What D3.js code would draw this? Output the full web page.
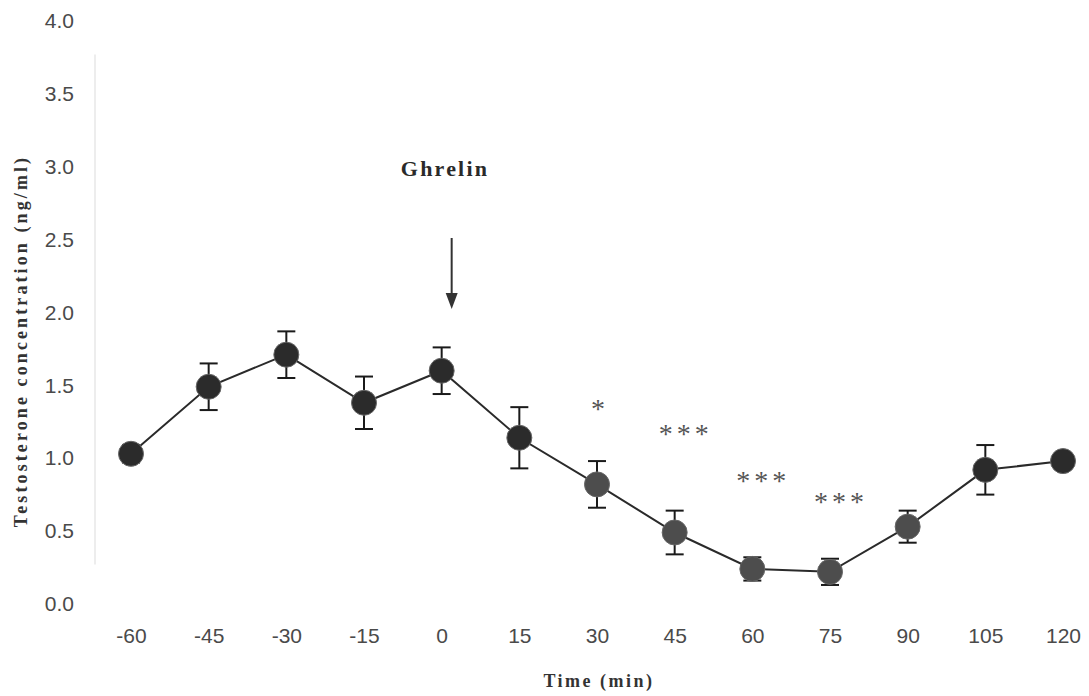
<!DOCTYPE html>
<html>
<head>
<meta charset="utf-8">
<script src="https://cdn.jsdelivr.net/npm/d3@7"></script>
<style>
  html, body { margin: 0; padding: 0; background: #fff; }
  svg { display: block; }
</style>
</head>
<body>
<svg id="chart" width="1089" height="696"></svg>
<script>
// Sampling times (min) relative to the ghrelin injection
const times = [-60, -45, -30, -15, 0, 15, 30, 45, 60, 75, 90, 105, 120];
// Mean testosterone concentration (ng/ml)
const meanValues = [1.01, 1.47, 1.69, 1.36, 1.58, 1.12, 0.80, 0.47, 0.22, 0.20, 0.51, 0.90, 0.96];
// Standard error of each mean
const errValues = [0.06, 0.16, 0.16, 0.18, 0.16, 0.21, 0.16, 0.15, 0.08, 0.09, 0.11, 0.17, 0.03];
// Significance markers: time point, text and level (ng/ml) they sit at
const sigTimes = [30, 45, 60, 75];
const sigLabels = ["*", "***", "***", "***"];
const sigLevels = [1.345, 1.17, 0.85, 0.705];
// Axis ticks
const yTicks = [0, 0.5, 1.0, 1.5, 2.0, 2.5, 3.0, 3.5, 4.0];
const xTicks = times;

const svg = d3.select("#chart");

const x = d3.scaleLinear().domain([-60, 120]).range([131, 1063]);
const y = d3.scaleLinear().domain([0, 4]).range([601, 18]);

const labelFont = "Liberation Sans, Arial, sans-serif";
const serifFont = "Liberation Serif, Times New Roman, serif";

// faint vertical axis line
svg.append("line")
  .attr("x1", 95).attr("x2", 95)
  .attr("y1", y(3.75)).attr("y2", y(0.25))
  .attr("stroke", "#ededed").attr("stroke-width", 2);

// y axis (labels only)
const yAxis = d3.axisLeft(y).tickValues(yTicks).tickFormat(d3.format(".1f")).tickSize(0).tickPadding(0);
const gy = svg.append("g").attr("transform", "translate(74,3)").call(yAxis);
gy.select(".domain").remove();
gy.selectAll("text")
  .attr("font-family", labelFont)
  .attr("font-size", 21)
  .attr("fill", "#4a4a4a");

// x axis (labels only)
const xAxis = d3.axisBottom(x).tickValues(xTicks).tickFormat(d => String(d)).tickSize(0).tickPadding(0);
const gx = svg.append("g").attr("transform", "translate(0,628)").call(xAxis);
gx.select(".domain").remove();
gx.selectAll("text")
  .attr("font-family", labelFont)
  .attr("font-size", 21)
  .attr("fill", "#4a4a4a");

// axis titles
svg.append("text")
  .attr("transform", "translate(27,341) rotate(-90)")
  .attr("text-anchor", "middle")
  .attr("font-family", serifFont)
  .attr("font-weight", "bold")
  .attr("font-size", 18)
  .attr("letter-spacing", 3.1)
  .attr("fill", "#333")
  .text("Testosterone concentration (ng/ml)");

svg.append("text")
  .attr("x", 599).attr("y", 687)
  .attr("text-anchor", "middle")
  .attr("font-family", serifFont)
  .attr("font-weight", "bold")
  .attr("font-size", 18)
  .attr("letter-spacing", 2.5)
  .attr("fill", "#333")
  .text("Time (min)");

// injection marker
svg.append("text")
  .attr("x", 445).attr("y", 176)
  .attr("text-anchor", "middle")
  .attr("font-family", serifFont)
  .attr("font-weight", "bold")
  .attr("font-size", 22)
  .attr("letter-spacing", 2.2)
  .attr("fill", "#2a2a2a")
  .text("Ghrelin");

const ax = x(0) + 10;
svg.append("line")
  .attr("x1", ax).attr("x2", ax)
  .attr("y1", 238).attr("y2", 295)
  .attr("stroke", "#333").attr("stroke-width", 2);
svg.append("path")
  .attr("d", `M${ax - 6},293 L${ax + 6},293 L${ax},309 Z`)
  .attr("fill", "#333");

const data = times.map((t, i) => ({ t, v: meanValues[i], e: errValues[i], i }));

// connecting line
svg.append("path")
  .datum(data)
  .attr("fill", "none")
  .attr("stroke", "#2a2a2a")
  .attr("stroke-width", 2)
  .attr("d", d3.line().x(d => x(d.t)).y(d => y(d.v)));

// error bars
const eb = svg.append("g").attr("stroke", "#1a1a1a").attr("stroke-width", 2);
data.forEach(d => {
  const cx = x(d.t);
  eb.append("line").attr("x1", cx).attr("x2", cx).attr("y1", y(d.v + d.e)).attr("y2", y(d.v - d.e));
  eb.append("line").attr("x1", cx - 9).attr("x2", cx + 9).attr("y1", y(d.v + d.e)).attr("y2", y(d.v + d.e));
  eb.append("line").attr("x1", cx - 9).attr("x2", cx + 9).attr("y1", y(d.v - d.e)).attr("y2", y(d.v - d.e));
});

// markers
svg.append("g").selectAll("circle")
  .data(data)
  .join("circle")
  .attr("cx", d => x(d.t))
  .attr("cy", d => y(d.v))
  .attr("r", 12.5)
  .attr("fill", d => d.t >= 30 && d.t <= 90 ? "#4d4d4d" : "#2b2b2b")
  .attr("stroke", "#666")
  .attr("stroke-width", 1);

// significance asterisks (glyph sits high in the em box, so drop the baseline)
svg.append("g").selectAll("text")
  .data(sigTimes.map((t, i) => ({ t, s: sigLabels[i], lv: sigLevels[i] })))
  .join("text")
  .attr("x", d => x(d.t) + (d.s.length > 1 ? 11 : 3))
  .attr("y", d => y(d.lv) + 13)
  .attr("text-anchor", "middle")
  .attr("font-family", serifFont)
  .attr("font-size", 28)
  .attr("letter-spacing", 4)
  .attr("fill", "#555")
  .text(d => d.s);
</script>
</body>
</html>
